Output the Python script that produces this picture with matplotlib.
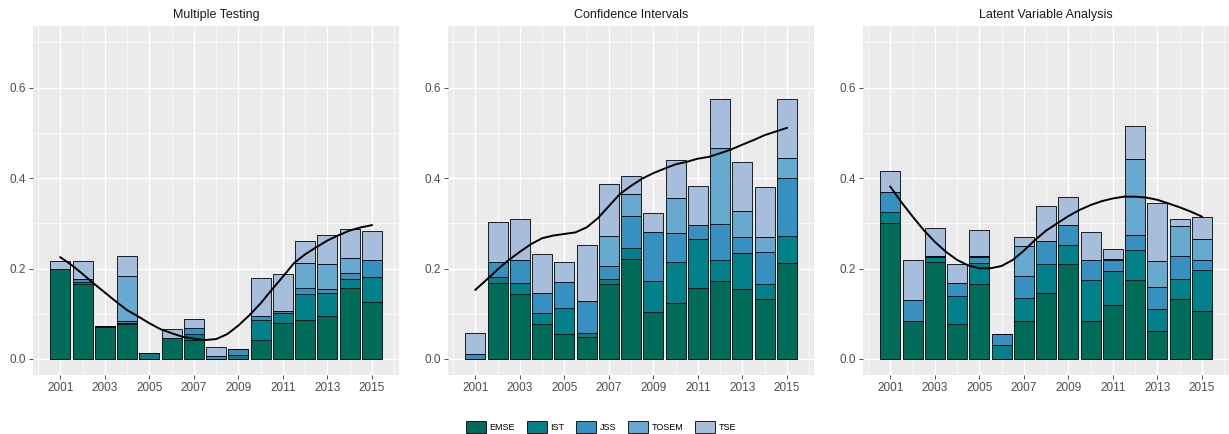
import numpy as np
import matplotlib.pyplot as plt
from matplotlib.patches import Patch
from matplotlib.ticker import MultipleLocator

plt.rcParams['font.family'] = ['Liberation Sans', 'DejaVu Sans']

years = list(range(2001, 2016))
smooth_years = [2001 + k / 2 for k in range(29)]
venues = ['EMSE', 'IST', 'JSS', 'TOSEM', 'TSE']
colors = ['#016c59', '#02818a', '#3690c0', '#67a9cf', '#a6bddb']
titles = ['Multiple Testing', 'Confidence Intervals', 'Latent Variable Analysis']

# Multiple Testing
mt_emse = [.199, .166, .071, .077, 0, .047, .041, 0, 0, .041, .080, .0855, .094, .156, .127]
mt_ist = [0, .004, .002, .003, .014, 0, .014, 0, .009, .045, .021, .0575, .053, .020, .054]
mt_jss = [0, .008, 0, .005, 0, 0, .014, .006, .012, .008, .006, .013, .007, .015, .037]
mt_tosem = [0, 0, 0, .099, 0, 0, 0, 0, 0, .002, 0, .057, .055, .032, 0]
mt_tse = [.017, .038, 0, .044, 0, .019, .019, .020, 0, .084, .082, .049, .066, .064, .066]
mt_smooth = [.225, .208, .188, .167, .147, .127, .108, .094, .079, .066, .057, .049, .045, .042,
             .044, .055, .074, .097, .123, .153, .182, .212, .2315, .247, .262, .2735, .284, .291, .296]

# Confidence Intervals
ci_emse = [0, .167, .143, .077, .0545, .048, .1665, .222, .104, .124, .158, .173, .1555, .133, .212]
ci_ist = [0, .014, .024, .024, .0575, .010, .0115, .024, .0685, .091, .107, .045, .0795, .0335, .061]
ci_jss = [.010, .034, .053, .044, .059, .0695, .028, .070, .109, .064, .032, .081, .0355, .0695, .127]
ci_tosem = [0, 0, 0, 0, 0, 0, .067, .049, 0, .078, 0, .167, .0575, .034, .045]
ci_tse = [.048, .089, .090, .087, .044, .1245, .115, .040, .0415, .083, .085, .110, .107, .110, .130]
ci_smooth = [.153, .175, .198, .219, .237, .254, .267, .273, .2765, .280, .291, .311, .338, .365,
             .383, .399, .411, .421, .4305, .436, .443, .447, .455, .4635, .474, .484, .495, .503, .511]

# Latent Variable Analysis
lva_emse = [.300, .083, .2145, .077, .1665, 0, .083, .147, .210, .083, .1185, .174, .062, .133, .106]
lva_ist = [.026, 0, .0115, .0615, .045, .032, .0525, .062, .043, .091, .0755, .066, .048, .044, .090]
lva_jss = [.0425, .047, .002, .0285, .0145, .023, .048, .051, .0425, .044, .026, .0335, .050, .0515, .0235]
lva_tosem = [0, 0, 0, 0, .002, 0, .067, 0, 0, 0, .002, .168, .0575, .0665, .045]
lva_tse = [.048, .089, .062, .044, .057, 0, .0195, .079, .062, .063, .0205, .073, .1275, .015, .0485]
lva_smooth = [.381, .3465, .315, .285, .259, .237, .219, .207, .2005, .2005, .2057, .219, .2395, .263,
              .284, .300, .316, .3295, .3405, .349, .355, .359, .359, .357, .352, .344, .3355, .326, .315]

panels = [
    ([mt_emse, mt_ist, mt_jss, mt_tosem, mt_tse], mt_smooth),
    ([ci_emse, ci_ist, ci_jss, ci_tosem, ci_tse], ci_smooth),
    ([lva_emse, lva_ist, lva_jss, lva_tosem, lva_tse], lva_smooth),
]

W, H = 1229, 434
fig = plt.figure(figsize=(W / 100, H / 100), dpi=100)
lefts = [33, 448, 863]
for i, (series, smooth) in enumerate(panels):
    ax = fig.add_axes([lefts[i] / W, (H - 375) / H, 366 / W, 349 / H])
    ax.set_facecolor('#EBEBEB')
    bottom = np.zeros(len(years))
    for vals, col in zip(series, colors):
        ax.bar(years, vals, width=0.9, bottom=bottom, color=col,
               edgecolor='black', linewidth=0.6, zorder=3)
        bottom += np.array(vals)
    ax.plot(smooth_years, smooth, color='black', linewidth=1.4, zorder=4)
    ax.set_xlim(1999.77, 2016.22)
    ax.set_ylim(-0.0354, 0.7364)
    ax.set_xticks(range(2001, 2016, 2))
    ax.xaxis.set_minor_locator(MultipleLocator(2, offset=0))
    ax.set_yticks([0, 0.2, 0.4, 0.6])
    ax.set_yticklabels(['0.0', '0.2', '0.4', '0.6'])
    ax.yaxis.set_minor_locator(MultipleLocator(0.2, offset=0.1))
    ax.grid(which='major', color='white', linewidth=1.0, zorder=0)
    ax.grid(which='minor', color='white', linewidth=0.5, zorder=0)
    ax.set_axisbelow(True)
    for s in ax.spines.values():
        s.set_visible(False)
    ax.tick_params(which='major', length=3, width=0.6, color='#333333',
                   labelcolor='#4D4D4D', labelsize=8.5, pad=2)
    ax.tick_params(which='minor', length=0)
    ax.set_title(titles[i], fontsize=9, color='#1A1A1A', pad=6)

handles = [Patch(facecolor=c, edgecolor='black', linewidth=0.6) for c in colors]
fig.legend(handles, venues, loc='center', bbox_to_anchor=(601 / W, 1 - 427 / H),
           ncol=5, frameon=False, fontsize=6.5, handlelength=2.2, handleheight=1.8,
           handletextpad=0.4, columnspacing=1.3, borderaxespad=0, borderpad=0)

fig.savefig('out.png', dpi=100)
